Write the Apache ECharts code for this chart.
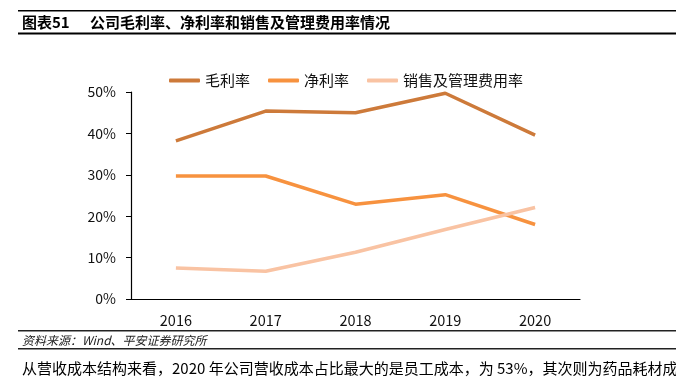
<!DOCTYPE html>
<html><head><meta charset="utf-8">
<script src="https://cdn.jsdelivr.net/npm/echarts@6/dist/echarts.min.js"></script>
<style>html,body{margin:0;padding:0;background:#fff}#c{width:676px;height:384px}</style>
</head><body><div id="c"></div>
<script>
const categories = ['2016','2017','2018','2019','2020'];
const grossMargin = [38.2, 45.4, 45.0, 49.7, 39.6];
const netMargin = [29.7, 29.7, 22.9, 25.2, 18.0];
const sgaRatio = [7.5, 6.7, 11.3, 16.8, 22.1];
const yTicks = [0, 10, 20, 30, 40, 50];
const seriesNames = ['毛利率', '净利率', '销售及管理费用率'];

const cjk = '"Noto Sans CJK SC", sans-serif';
const chart = echarts.init(document.getElementById('c'));
chart.setOption({
  animation: false,
  color: ['#CD7A3A', '#F7923F', '#F9C3A3'],
  legend: {
    top: 68, left: 164, itemWidth: 31, itemHeight: 4, itemGap: 18,
    icon: 'roundRect',
    textStyle: {fontSize: 15, color: '#111', fontFamily: cjk},
    data: seriesNames
  },
  grid: {left: 131, right: 96, top: 92, bottom: 85},
  xAxis: {
    type: 'category', data: categories, boundaryGap: true,
    axisLine: {lineStyle: {color: '#000', width: 1.2}},
    axisTick: {show: false},
    axisLabel: {fontSize: 14.5, color: '#111', margin: 14, fontFamily: cjk}
  },
  yAxis: {
    type: 'value', min: yTicks[0], max: yTicks[yTicks.length - 1], interval: 10,
    axisLine: {show: true, lineStyle: {color: '#000', width: 1.2}},
    axisTick: {show: true, inside: false, length: 5, lineStyle: {color: '#000'}},
    splitLine: {show: false},
    axisLabel: {fontSize: 14, color: '#111', margin: 15, fontFamily: cjk, formatter: v => v + '%'}
  },
  series: [
    {name: seriesNames[0], type: 'line', data: grossMargin, symbol: 'none', lineStyle: {width: 3.5}},
    {name: seriesNames[1], type: 'line', data: netMargin, symbol: 'none', lineStyle: {width: 3.5}},
    {name: seriesNames[2], type: 'line', data: sgaRatio, symbol: 'none', lineStyle: {width: 3.5}}
  ],
  graphic: [
    {type: 'rect', shape: {x: 18, y: 10, width: 660, height: 1.5}, style: {fill: '#000'}},
    {type: 'rect', shape: {x: 18, y: 32.5, width: 660, height: 2}, style: {fill: '#000'}},
    {type: 'text', x: 22, y: 22.5, style: {text: '图表51', fontSize: 15, fontWeight: 'bold', fill: '#000', fontFamily: cjk, verticalAlign: 'middle'}},
    {type: 'text', x: 90, y: 22.5, style: {text: '公司毛利率、净利率和销售及管理费用率情况', fontSize: 15, fontWeight: 'bold', fill: '#000', fontFamily: cjk, verticalAlign: 'middle'}},
    {type: 'rect', shape: {x: 18, y: 330, width: 660, height: 1.5}, style: {fill: '#222'}},
    {type: 'text', x: 22, y: 340, style: {text: '资料来源：Wind、平安证券研究所', fontSize: 12, fontStyle: 'italic', fill: '#222', fontFamily: cjk, verticalAlign: 'middle'}},
    {type: 'rect', shape: {x: 18, y: 348, width: 660, height: 1.5}, style: {fill: '#222'}},
    {type: 'text', x: 22, y: 368, style: {text: '从营收成本结构来看，2020 年公司营收成本占比最大的是员工成本，为 53%，其次则为药品耗材成本', fontSize: 15, fill: '#000', fontFamily: cjk, verticalAlign: 'middle'}}
  ]
});
</script></body></html>
